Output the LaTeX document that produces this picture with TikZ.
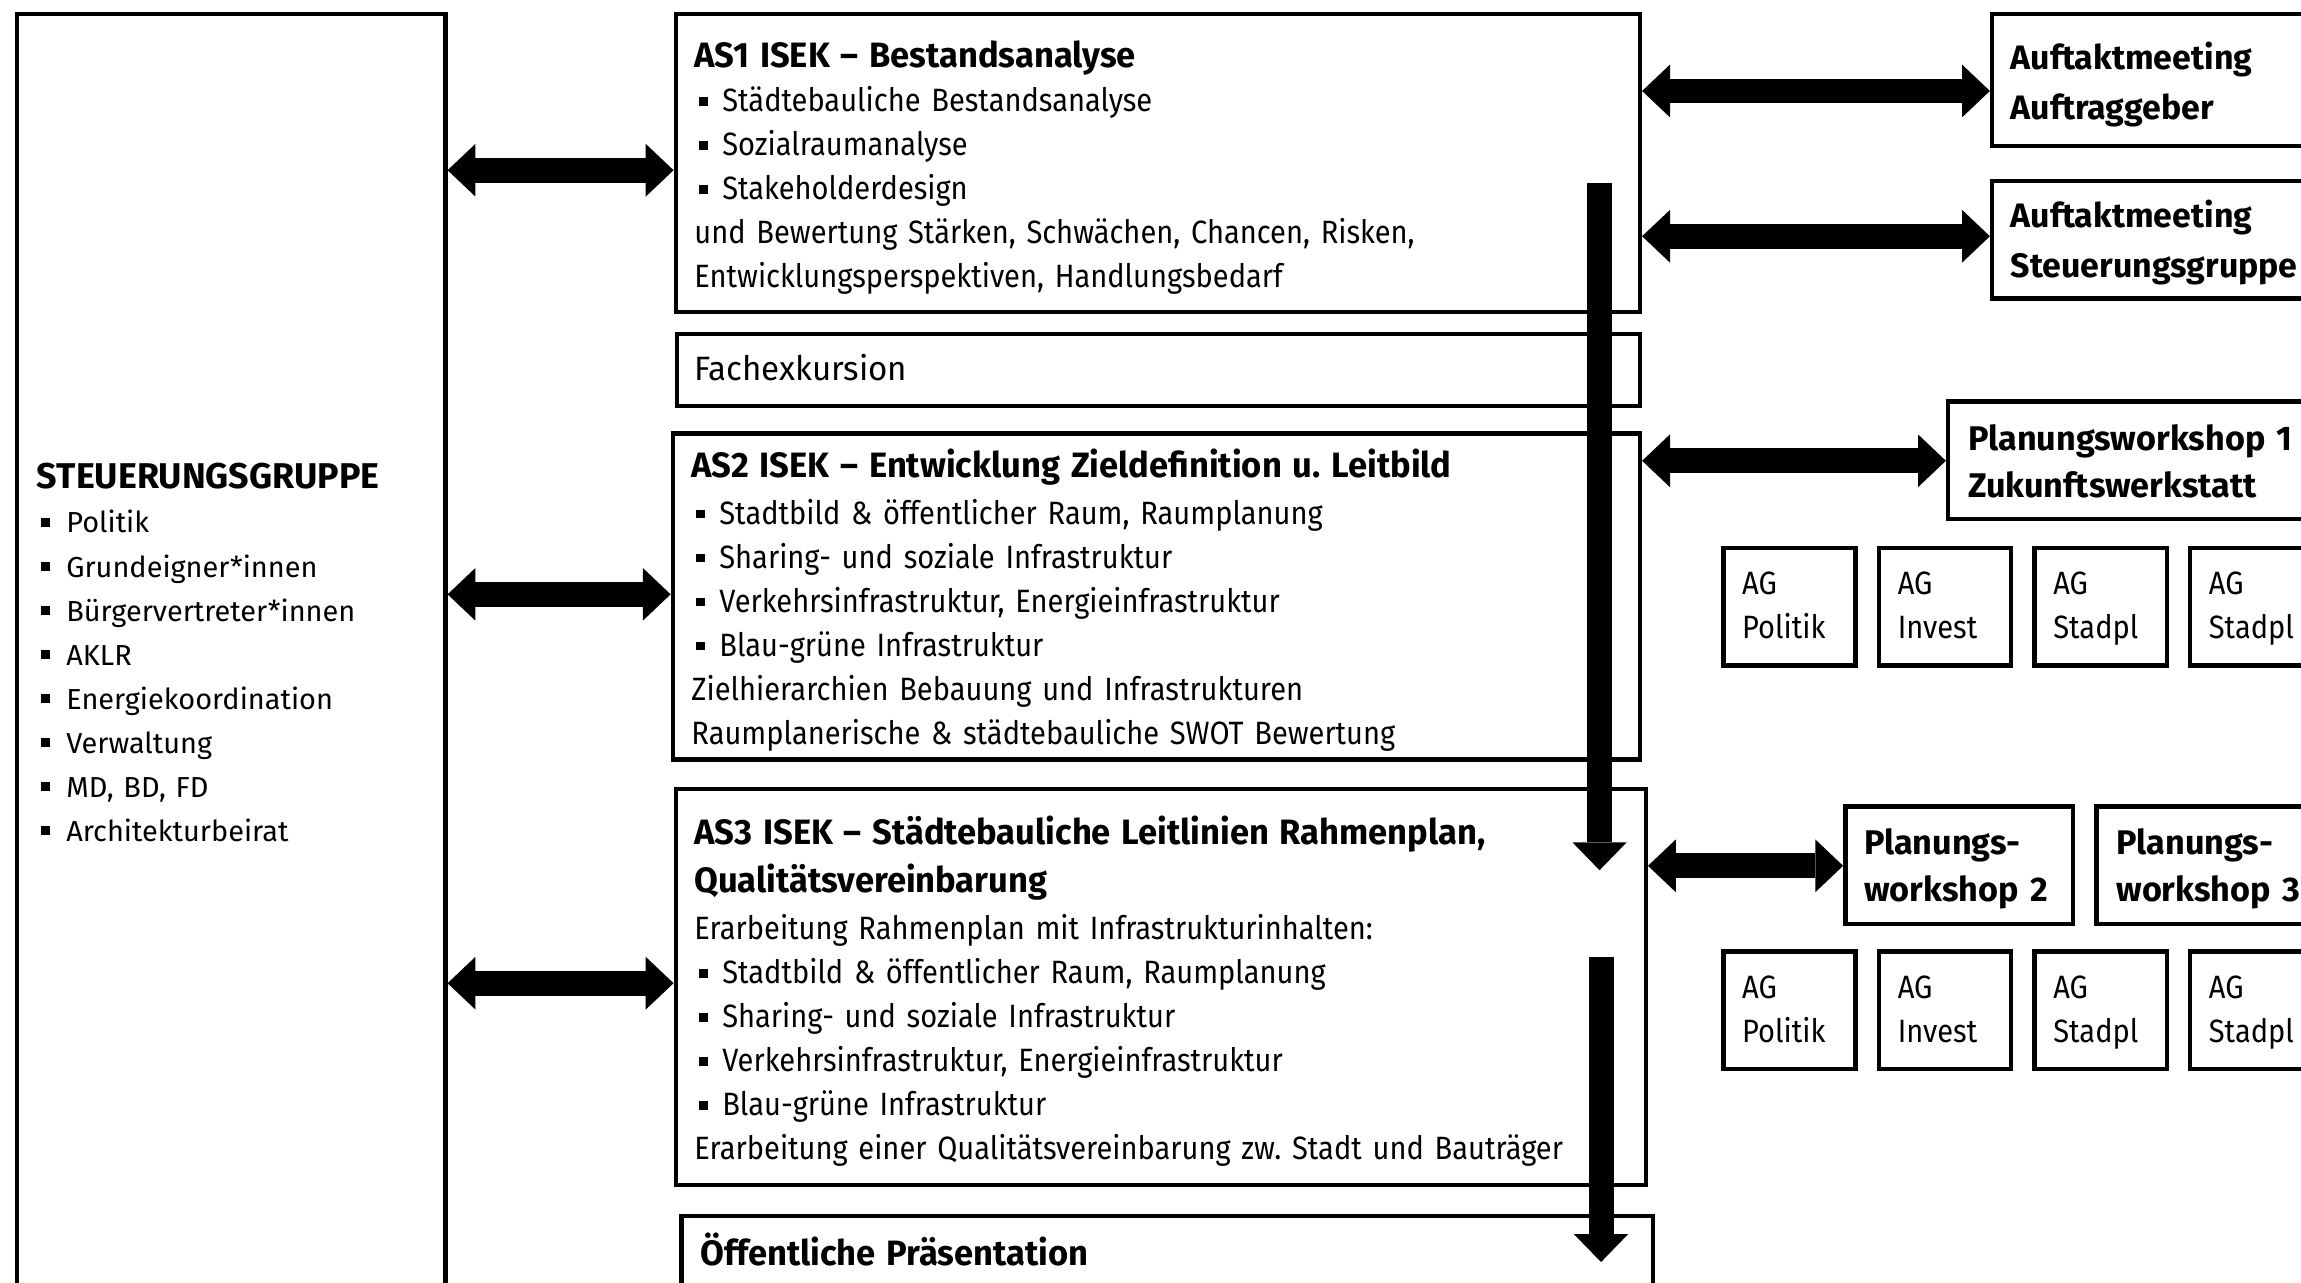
\documentclass[tikz,border=0pt]{standalone}
\usepackage{fontspec}
\usetikzlibrary{arrows.meta}
\setmainfont{Fira Sans}
\newfontfamily\condfont[FakeStretch=0.9,WordSpace=0.85]{Fira Sans}
\newfontfamily\headfont[FakeStretch=0.98,WordSpace=0.9]{Fira Sans}
\frenchspacing
\newcommand{\bul}[1][19pt]{\makebox[#1][l]{\hspace{3pt}\rule[4pt]{6pt}{6pt}}}
\newcommand{\firstln}{\rule{0pt}{24pt}}
\newcommand{\headln}[1]{{\headfont\bfseries\fontsize{24}{30}\selectfont #1}}

\tikzset{
	blk/.style={draw,line width=3pt,anchor=north west,inner sep=0pt},
	txt/.style={anchor=north west,inner sep=0pt,align=left,text width=#1},
	midtxt/.style={font=\condfont\fontsize{22}{30}\selectfont},
	lefttxt/.style={font=\fontsize{19.7}{30}\selectfont},
	righttxt/.style={font=\bfseries\fontsize{23.1}{34}\selectfont},
	dbl/.style={line width=17pt,{Triangle[width=36pt,length=19pt,line width=0pt]}-{Triangle[width=36pt,length=19pt,line width=0pt]}},
	down/.style={line width=17pt,-{Triangle[width=37pt,length=19pt,line width=0pt]}}
}

\begin{document}
\begin{tikzpicture}[x=1pt,y=-1pt]
		\fill[white] (0,0) rectangle (1568,874);
		\useasboundingbox (0,0) rectangle (1568,874);
		
		% boxes
		\node[blk,minimum width=292pt,minimum height=900pt] (steu) at (10,8) {};
		\node[blk,minimum width=657pt,minimum height=203pt] (as1) at (459,8) {};
		\node[blk,minimum width=656pt,minimum height=49pt] (fach) at (460,226) {};
		\node[blk,minimum width=659pt,minimum height=222pt] (as2) at (457,294) {};
		\node[blk,minimum width=661pt,minimum height=270pt] (as3) at (459,536) {};
		\node[blk,minimum width=662pt,minimum height=80pt] (oeff) at (463,827) {};
		\node[blk,minimum width=224pt,minimum height=90pt] (auf1) at (1356,8) {};
		\node[blk,minimum width=224pt,minimum height=80pt] (auf2) at (1356,122) {};
		\node[blk,minimum width=254pt,minimum height=80pt] (pw1) at (1326,272) {};
		\node[blk,minimum width=155pt,minimum height=80pt] (pw2) at (1256,548) {};
		\node[blk,minimum width=153pt,minimum height=80pt] (pw3) at (1427,548) {};
		
		\node[txt=270pt,lefttxt] (steutxt) at (25,309) {\firstln{\bfseries\fontsize{24.4}{30}\selectfont STEUERUNGSGRUPPE}\\
			\bul[20pt]Politik\\
			\bul[20pt]Grundeigner*innen\\
			\bul[20pt]Bürgervertreter*innen\\
			\bul[20pt]AKLR\\
			\bul[20pt]Energiekoordination\\
			\bul[20pt]Verwaltung\\
			\bul[20pt]MD, BD, FD\\
			\bul[20pt]Architekturbeirat};
		
		\node[txt=630pt,midtxt] (as1txt) at (473,22) {\firstln\headln{AS1 ISEK – Bestandsanalyse}\\
			\bul Städtebauliche Bestandsanalyse\\
			\bul Sozialraumanalyse\\
			\bul Stakeholderdesign\\
			und Bewertung Stärken, Schwächen, Chancen, Risken,\\
			Entwicklungsperspektiven, Handlungsbedarf};
		\node[txt=630pt,font=\headfont\fontsize{23}{30}\selectfont] (fachtxt) at (473,235) {\firstln Fachexkursion};
		\node[txt=630pt,midtxt] (as2txt) at (471,301) {\firstln\headln{AS2 ISEK – Entwicklung Zieldefinition u. Leitbild}\\[2pt]
			\bul Stadtbild \& öffentlicher Raum, Raumplanung\\
			\bul Sharing- und soziale Infrastruktur\\
			\bul Verkehrsinfrastruktur, Energieinfrastruktur\\
			\bul Blau-grüne Infrastruktur\\
			Zielhierarchien Bebauung und Infrastrukturen\\
			Raumplanerische \& städtebauliche SWOT Bewertung};
		\node[txt=630pt,midtxt] (as3txt) at (473,551) {\firstln\headln{AS3 ISEK – Städtebauliche Leitlinien Rahmenplan,}\\[3pt]
			\headln{Qualitätsvereinbarung}\\[2pt]
			Erarbeitung Rahmenplan mit Infrastrukturinhalten:\\
			\bul Stadtbild \& öffentlicher Raum, Raumplanung\\
			\bul Sharing- und soziale Infrastruktur\\
			\bul Verkehrsinfrastruktur, Energieinfrastruktur\\
			\bul Blau-grüne Infrastruktur\\
			Erarbeitung einer Qualitätsvereinbarung zw. Stadt und Bauträger};
		\node[txt=630pt,midtxt] (oefftxt) at (477,838) {\firstln\headln{Öffentliche Präsentation}};
		
		\node[txt=250pt,righttxt] (auf1txt) at (1370,23) {\firstln Auftaktmeeting\\Auftraggeber};
		\node[txt=250pt,righttxt] (auf2txt) at (1370,131) {\firstln Auftaktmeeting\\Steuerungsgruppe};
		\node[txt=250pt,righttxt,font=\bfseries\fontsize{23.3}{32}\selectfont] (pw1txt) at (1341,283) {\firstln Planungsworkshop 1\\Zukunftswerkstatt};
		\node[txt=150pt,righttxt,font=\bfseries\fontsize{23.3}{32}\selectfont] (pw2txt) at (1270,558) {\firstln Planungs-\\workshop 2};
		\node[txt=150pt,righttxt,font=\bfseries\fontsize{23.3}{32}\selectfont] (pw3txt) at (1442,558) {\firstln Planungs-\\workshop 3};
		
		\foreach \x/\lab [count=\i] in {1173/Politik,1279/Invest,1385/Stadpl,1491/Stadpl}{
			\node[blk,minimum width=90pt,minimum height=80pt] (agA\i) at (\x,372) {};
			\node[txt=80pt,midtxt] (agAtxt\i) at (\x+14,381) {\firstln AG\\\lab};
			\node[blk,minimum width=90pt,minimum height=80pt] (agB\i) at (\x,647) {};
			\node[txt=80pt,midtxt] (agBtxt\i) at (\x+14,656) {\firstln AG\\\lab};
		}
		
		% arrows
		\draw[dbl] (steu.east |- 0,116) -- (as1.west |- 0,116);
		\draw[dbl] (steu.east |- 0,405) -- (as2.west |- 0,405);
		\draw[dbl] (steu.east |- 0,670) -- (as3.west |- 0,670);
		\draw[dbl] (as1.east |- 0,62) -- (auf1.west |- 0,62);
		\draw[dbl] (as1.east |- 0,161) -- (auf2.west |- 0,161);
		\draw[dbl] (as2.east |- 0,314) -- (pw1.west |- 0,314);
		\draw[dbl] (as3.east |- 0,590) -- (pw2.west |- 0,590);
		
		\coordinate (v1s) at (1090,125);
		\coordinate (v1e) at (1090,593);
		\coordinate (v2s) at (1091,652);
		\coordinate (v2e) at (1091,860);
		\draw[down] (v1s) -- (v1e);
		\draw[down] (v2s) -- (v2e);
		
\end{tikzpicture}
\end{document}
